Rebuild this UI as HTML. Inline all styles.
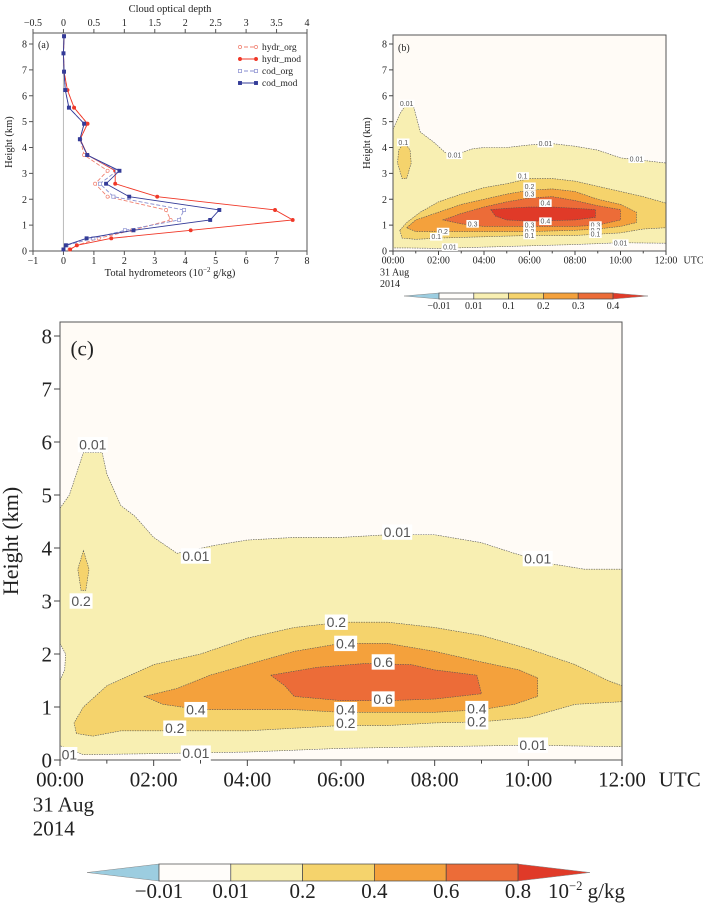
<!DOCTYPE html>
<html><head><meta charset="utf-8"><style>
html,body{margin:0;padding:0;background:#fff;}
svg{display:block;font-family:"Liberation Serif",serif;}
</style></head><body>
<svg id="fig" width="714" height="906" viewBox="0 0 714 906" xmlns="http://www.w3.org/2000/svg"></svg>
<script>
// ---------- Panel (a) data ----------
const heights = [0.06,0.22,0.49,0.8,1.2,1.585,2.1,2.6,3.1,3.71,4.32,4.92,5.54,6.22,6.93,7.64,8.3];
const hydrOrg = [0.2,0.44,1.16,2.25,3.52,3.37,1.45,1.04,1.45,0.68,0.55,0.79,0.35,0.13,0.02,0,0.02];
const hydrMod = [0.22,0.44,1.57,4.18,7.53,6.95,3.08,1.7,1.7,0.79,0.55,0.79,0.35,0.13,0.02,0,0.02];
const codOrg = [0,0.05,0.49,1.01,1.9,1.98,0.82,0.6,0.88,0.39,0.27,0.34,0.09,0.03,0.01,0,0.01];
const codMod = [0,0.04,0.38,1.15,2.41,2.56,1.08,0.7,0.92,0.39,0.27,0.34,0.09,0.03,0.01,0,0.01];
const aBottomTicks = [-1,0,1,2,3,4,5,6,7,8];
const aTopTicks = [-0.5,0,0.5,1,1.5,2,2.5,3,3.5,4];
const yTicks = [0,1,2,3,4,5,6,7,8];

// ---------- Panel (b) contour data: [hour, km] ----------
const b001 = [[0,4.7],[0.3,5.3],[0.6,5.7],[0.9,5.6],[1.2,4.6],[1.8,4.2],[2.3,3.8],[3,3.8],[3.5,3.95],[4,4.0],[5,4.0],[6,4.1],[7,4.15],[8,4.05],[9,3.9],[10,3.6],[11,3.5],[12,3.4],[12,0.3],[10,0.32],[8,0.25],[6,0.2],[4,0.15],[2,0.1],[0.5,0.12],[0,0.12]];
const b01 = [[0.3,0.8],[0.6,1.1],[1.2,1.5],[2,1.9],[3,2.2],[4,2.45],[5,2.6],[6,2.8],[7,2.8],[8,2.7],[9,2.5],[10,2.3],[11,2.1],[12,1.85],[12,0.9],[11,0.85],[10,0.7],[8,0.6],[6,0.6],[4,0.55],[2,0.5],[1,0.45],[0.4,0.5]];
const b01blob = [[0.5,4.2],[0.75,3.9],[0.8,3.4],[0.6,2.8],[0.4,2.8],[0.2,3.4],[0.25,3.9]];
const b02 = [[0.6,0.9],[1,1.2],[2,1.5],[3,1.8],[4,2.0],[5,2.2],[6,2.35],[7,2.4],[8,2.3],[9,2.0],[10,1.8],[10.7,1.5],[10.7,1.1],[10,0.95],[9,0.85],[8,0.8],[6,0.75],[4,0.75],[2,0.75],[1,0.75]];
const b03 = [[2.2,1.2],[3,1.45],[4,1.7],[5,1.9],[6,2.05],[7,2.1],[8,1.95],[9,1.75],[10,1.6],[10,1.2],[9,1.0],[8,0.95],[6,0.95],[4,0.95],[3,1.05]];
const b04 = [[4.3,1.6],[5,1.65],[6,1.7],[7,1.7],[8,1.65],[8.9,1.6],[8.9,1.3],[8,1.2],[6,1.15],[5,1.2],[4.5,1.35]];

// ---------- Panel (c) contour data ----------
const c001 = [[0,4.75],[0.2,5.0],[0.5,5.8],[0.9,5.8],[1.0,5.4],[1.3,4.8],[1.6,4.6],[2.0,4.2],[2.5,3.9],[3.3,4.05],[4,4.15],[5,4.2],[6,4.2],[7,4.25],[8,4.25],[9,4.1],[9.7,3.9],[10.5,3.7],[11.2,3.6],[12,3.6],[12,0.25],[10,0.28],[8,0.25],[6,0.22],[4,0.15],[2,0.12],[0.5,0.1],[0,0.27]];
const cWhiteBulge = [[0,2.2],[0.12,2.0],[0.1,1.7],[0,1.5]];
const c02 = [[0.35,0.5],[0.3,0.7],[0.5,1.0],[1.0,1.4],[2,1.8],[3,2.0],[4,2.3],[5,2.5],[6,2.6],[7,2.6],[8,2.5],[9,2.35],[10,2.1],[11,1.8],[11.7,1.5],[12,1.4],[12,1.1],[11,1.05],[10,0.8],[9,0.72],[8,0.7],[7,0.65],[6,0.65],[5,0.6],[4,0.55],[3,0.55],[2,0.55],[1.3,0.55],[0.7,0.45]];
const c02blob = [[0.5,3.95],[0.62,3.6],[0.55,3.2],[0.45,3.2],[0.38,3.6]];
const c04 = [[1.8,1.2],[2.5,1.35],[3.2,1.6],[4,1.8],[5,2.05],[6,2.2],[7,2.2],[8,2.05],[9,1.85],[9.8,1.7],[10.2,1.55],[10.2,1.2],[9.7,1.05],[9,0.95],[8,0.9],[7,0.9],[6,0.9],[5,0.95],[4,0.95],[3,0.95],[2.2,1.05]];
const c06 = [[4.5,1.6],[5.5,1.75],[6.5,1.82],[7.5,1.8],[8,1.7],[8.9,1.6],[9,1.25],[8,1.15],[7,1.12],[6,1.12],[5,1.2],[4.8,1.4]];
const hourTicks = ["00:00","02:00","04:00","06:00","08:00","10:00","12:00"];
const cLevels = ["\u22120.01","0.01","0.2","0.4","0.6","0.8"];
const bLevelsBar = ["\u22120.01","0.01","0.1","0.2","0.3","0.4"];

const NS="http://www.w3.org/2000/svg";
const svg=document.getElementById('fig');
function el(tag,attrs,parent,text){const e=document.createElementNS(NS,tag);for(const k in attrs)e.setAttribute(k,attrs[k]);if(text!==undefined)e.textContent=text;(parent||svg).appendChild(e);return e;}

const C={bg:'#fffbf6',l1:'#f8efb2',l2:'#f5d36c',l3:'#f4a13c',l4:'#ec6c38',l5:'#e03a28',neg:'#9ccde0'};

function marker(g,cx,cy,sq,open,c){
  if(sq) return el('rect',{x:cx-1.6,y:cy-1.6,width:3.2,height:3.2,fill:open?'#fff':c,stroke:c,'stroke-width':0.7},g);
  return el('circle',{cx:cx,cy:cy,r:1.6,fill:open?'#fff':c,stroke:c,'stroke-width':0.7},g);
}

// ---------- Panel A ----------
(function(){
  const g=el('g',{});  
  const X0=33,X1=307,Y0=251,YT=33,ky=25.875;
  const xb=v=>X0+(v+1)*(X1-X0)/9;
  const xt=v=>X0+(v+0.5)*(X1-X0)/4.5;
  const y=v=>Y0-v*ky;
  el('rect',{x:X0,y:YT,width:X1-X0,height:Y0-YT,fill:'#fff',stroke:'#555','stroke-width':1},g);
  el('line',{x1:xb(0),x2:xb(0),y1:YT,y2:Y0,stroke:'#bbb','stroke-width':1},g);
  aBottomTicks.forEach(t=>{el('line',{x1:xb(t),x2:xb(t),y1:Y0,y2:Y0+4,stroke:'#555'},g);
    const tx=el('text',{x:xb(t),y:Y0+13,'font-size':10,'text-anchor':'middle',fill:'#222'},g,t<0?'\u2212'+(-t):t);
     });
  aTopTicks.forEach(t=>{el('line',{x1:xt(t),x2:xt(t),y1:YT,y2:YT-4,stroke:'#555'},g);
    const tx=el('text',{x:xt(t),y:YT-7,'font-size':10,'text-anchor':'middle',fill:'#222'},g,t<0?'\u2212'+(-t):t);
     });
  yTicks.forEach(t=>{el('line',{x1:X0,x2:X0-4,y1:y(t),y2:y(t),stroke:'#555'},g);
    const tx=el('text',{x:X0-6,y:y(t)+3.5,'font-size':10,'text-anchor':'end',fill:'#222'},g,t);
     });
  const t1=el('text',{x:170,y:276,'font-size':10.5,'text-anchor':'middle',fill:'#222'},g,'Total hydrometeors (10');
   
  el('tspan',{dy:-4,'font-size':7},t1,'\u22122');
  el('tspan',{dy:4},t1,' g/kg)');
  const t2=el('text',{x:170,y:12,'font-size':10.5,'text-anchor':'middle',fill:'#222'},g,'Cloud optical depth');
   
  const t3=el('text',{x:12,y:142,'font-size':10.5,'text-anchor':'middle',fill:'#222',transform:'rotate(-90 12 142)'},g,'Height (km)');
   
  const pl=el('text',{x:38,y:48,'font-size':10,fill:'#222'},g,'(a)');
   
  const series=[
    {d:hydrOrg,fx:xb,c:'#f08070',dash:'4,2',open:true,sq:false,name:'hydr-org-line'},
    {d:hydrMod,fx:xb,c:'#f03828',dash:'',open:false,sq:false,name:'hydr-mod-line'},
    {d:codOrg,fx:xt,c:'#8a8fd0',dash:'4,2',open:true,sq:true,name:'cod-org-line'},
    {d:codMod,fx:xt,c:'#343c98',dash:'',open:false,sq:true,name:'cod-mod-line'}];
  series.forEach(s=>{
    const pts=s.d.map((v,i)=>s.fx(v)+','+y(heights[i])).join(' ');
    const p=el('polyline',{points:pts,fill:'none',stroke:s.c,'stroke-width':0.9,'stroke-dasharray':s.dash},g);
     
    s.d.forEach((v,i)=>{const m=marker(g,s.fx(v),y(heights[i]),s.sq,s.open,s.c);
       });
  });
  const names=['hydr_org','hydr_mod','cod_org','cod_mod'];
  series.forEach((s,i)=>{const ly=47+i*12;
    const lg=el('g',{},g);  
    el('line',{x1:238,x2:258,y1:ly,y2:ly,stroke:s.c,'stroke-width':0.9,'stroke-dasharray':s.dash},lg);
    marker(lg,240,ly,s.sq,s.open,s.c); marker(lg,256,ly,s.sq,s.open,s.c);
    el('text',{x:262,y:ly+3,'font-size':9.5,fill:'#222'},lg,names[i]);
  });
})();

function contourPanel(cfg){
  const g=el('g',{});  
  const {X0,X1,Y0,YT,ky,fs}=cfg;
  const x=h=>X0+h*(X1-X0)/12, y=v=>Y0-v*ky;
  el('rect',{x:X0,y:YT,width:X1-X0,height:Y0-YT,fill:C.bg},g);
  cfg.polys.forEach(p=>{
    const e=el('polygon',{points:p.d.map(q=>x(q[0])+','+y(q[1])).join(' '),fill:p.c,stroke:'#555','stroke-width':0.6,'stroke-dasharray':'1.5,1'},g);
     
  });
  el('rect',{x:X0,y:YT,width:X1-X0,height:Y0-YT,fill:'none',stroke:'#555','stroke-width':1},g);
  cfg.labels.forEach(l=>{
    const w=l[2].length*fs*0.5+2;
    el('rect',{x:x(l[0])-w/2,y:y(l[1])-fs*0.55,width:w,height:fs*1.1,fill:'#fff'},g);
    const t=el('text',{x:x(l[0]),y:y(l[1])+fs*0.35,'font-size':fs,'text-anchor':'middle',fill:'#555','font-family':'Liberation Sans Narrow, Liberation Sans, sans-serif'},g,l[2]);
     
  });
  yTicks.forEach(t=>{el('line',{x1:X0,x2:X0-cfg.tk,y1:y(t),y2:y(t),stroke:'#444'},g);
    const tx=el('text',{x:X0-cfg.tk-2,y:y(t)+cfg.tf*0.35,'font-size':cfg.tf,'text-anchor':'end',fill:'#222'},g,t);
     });
  for(let h=0;h<=12;h++){el('line',{x1:x(h),x2:x(h),y1:Y0,y2:Y0+(h%2?cfg.tk*0.6:cfg.tk),stroke:'#444'},g);}
  hourTicks.forEach((t,i)=>{const tx=el('text',{x:x(i*2),y:Y0+cfg.tf*1.25,'font-size':cfg.tf,'text-anchor':'middle',fill:'#222'},g,t);
     });
  el('text',{x:x(12)+cfg.tf*1.75,y:Y0+cfg.tf*1.25,'font-size':cfg.tf,fill:'#222'},g,'UTC');
  el('text',{x:X0-cfg.tf*1.3,y:Y0+cfg.tf*2.45,'font-size':cfg.tf,fill:'#222'},g,'31  Aug');
  el('text',{x:X0-cfg.tf*1.3,y:Y0+cfg.tf*3.6,'font-size':cfg.tf,fill:'#222'},g,'2014');
  const yt=el('text',{x:cfg.ytx,y:(Y0+YT)/2,'font-size':cfg.tf*1.05,'text-anchor':'middle',fill:'#222',transform:`rotate(-90 ${cfg.ytx} ${(Y0+YT)/2})`},g,'Height (km)');
   
  const pl=el('text',{x:X0+cfg.tf*0.5,y:YT+cfg.tf*1.6,'font-size':cfg.tf,fill:'#222'},g,cfg.label);
   
  const cb=el('g',{},g);  
  const B=cfg.cb, seg=(B.x1-B.x0)/5, cols=['#fffdfa',C.l1,C.l2,C.l3,C.l4];
  el('polygon',{points:`${B.t0},${B.y+B.h/2} ${B.x0},${B.y} ${B.x0},${B.y+B.h}`,fill:C.neg,stroke:'#888','stroke-width':0.5},cb);
  el('polygon',{points:`${B.t1},${B.y+B.h/2} ${B.x1},${B.y} ${B.x1},${B.y+B.h}`,fill:C.l5,stroke:'#888','stroke-width':0.5},cb);
  cols.forEach((c,i)=>el('rect',{x:B.x0+i*seg,y:B.y,width:seg,height:B.h,fill:c,stroke:'#444','stroke-width':0.7},cb));
  cfg.barLabels.forEach((t,i)=>{const tx=el('text',{x:B.x0+i*seg,y:B.ly,'font-size':B.fs,'text-anchor':'middle',fill:'#222'},cb,t);
     });
  if(cfg.unit){const u=el('text',{x:B.x1+30,y:B.ly,'font-size':B.fs,fill:'#222'},cb,'10');
     
    el('tspan',{dy:-8,'font-size':B.fs*0.6},u,'\u22122'); el('tspan',{dy:8},u,'  g/kg');}
}

contourPanel({name:'panel-b',label:'(b)',X0:393,X1:666,Y0:251,YT:35,ky:25.875,fs:7,tf:10,tk:4,ytx:370,
  polys:[{d:b001,c:C.l1,n:'contour-0.01'},{d:b01,c:C.l2,n:'contour-0.1'},{d:b01blob,c:C.l2,n:'contour-0.1-blob'},
    {d:b02,c:C.l3,n:'contour-0.2'},{d:b03,c:C.l4,n:'contour-0.3'},{d:b04,c:C.l5,n:'contour-0.4'}],
  labels:[[0.6,5.7,'0.01'],[0.45,4.2,'0.1'],[2.7,3.7,'0.01'],[6.7,4.15,'0.01'],[10.7,3.55,'0.01'],[5.7,2.9,'0.1'],[6,2.5,'0.2'],[6,2.2,'0.3'],[6.7,1.85,'0.4'],[6.7,1.15,'0.4'],[3.5,1.05,'0.3'],[6,1.0,'0.3'],[6,0.75,'0.2'],[6,0.6,'0.1'],[8.9,1.0,'0.3'],[8.9,0.8,'0.2'],[8.9,0.65,'0.1'],[2.2,0.75,'0.2'],[1.9,0.55,'0.1'],[2.5,0.15,'0.01'],[10,0.3,'0.01']],
  cb:{t0:404,x0:439,x1:613,t1:648,y:293,h:6,ly:309,fs:10},barLabels:bLevelsBar,unit:false});

contourPanel({name:'panel-c',label:'(c)',X0:60,X1:622,Y0:760,YT:322,ky:53,fs:14,tf:21,tk:6,ytx:18,
  polys:[{d:c001,c:C.l1,n:'contour-0.01'},{d:cWhiteBulge,c:C.bg,n:'contour-low-bulge'},{d:c02,c:C.l2,n:'contour-0.2'},{d:c02blob,c:C.l2,n:'contour-0.2-blob'},
    {d:c04,c:C.l3,n:'contour-0.4'},{d:c06,c:C.l4,n:'contour-0.6'}],
  labels:[[0.7,5.95,'0.01'],[2.9,3.85,'0.01'],[7.2,4.3,'0.01'],[10.2,3.8,'0.01'],[0.45,3.0,'0.2'],[5.9,2.6,'0.2'],[6.1,2.2,'0.4'],[6.9,1.85,'0.6'],[6.9,1.15,'0.6'],[2.9,0.95,'0.4'],[2.45,0.6,'0.2'],[6.1,0.95,'0.4'],[6.1,0.7,'0.2'],[8.9,0.97,'0.4'],[8.9,0.72,'0.2'],[10.1,0.28,'0.01'],[2.9,0.13,'0.01'],[0.2,0.1,'01']],
  cb:{t0:87,x0:159,x1:518,t1:590,y:864,h:17,ly:898,fs:21},barLabels:cLevels,unit:true});
</script>
</body></html>
